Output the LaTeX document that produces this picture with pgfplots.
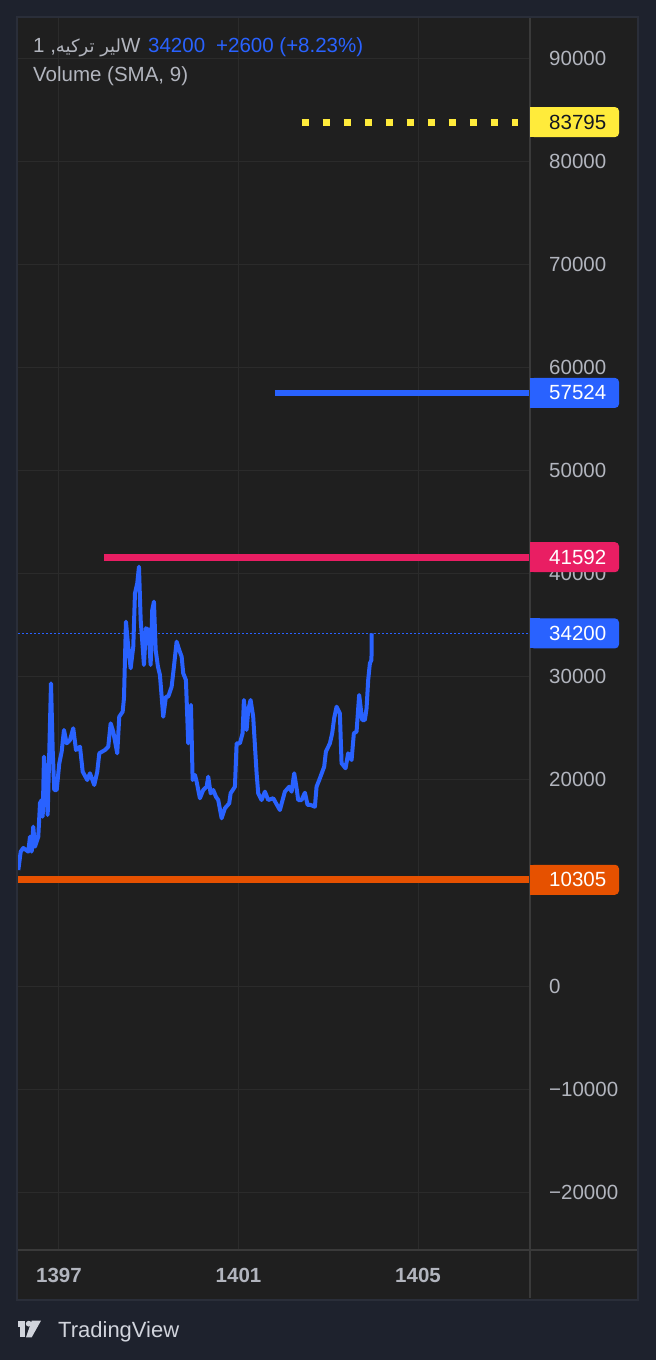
\documentclass[border=0pt]{standalone}
\usepackage{pgfplots}
\pgfplotsset{compat=1.18}
\usepackage{fontspec}
\setmainfont{Liberation Sans}
\newfontfamily\arabicfont[Script=Arabic]{DejaVu Sans}
\TeXXeTstate=1
\definecolor{bgout}{HTML}{1E222D}
\definecolor{panel}{HTML}{1F1F1F}
\definecolor{pborder}{HTML}{2A2E39}
\definecolor{sep}{HTML}{3A3A3A}
\definecolor{gridc}{HTML}{2B2B2B}
\definecolor{tickc}{HTML}{B2B5BE}
\definecolor{tvblue}{HTML}{2962FF}
\definecolor{tvred}{HTML}{E91E63}
\definecolor{tvorange}{HTML}{E65100}
\definecolor{tvyellow}{HTML}{FFEB3B}
\definecolor{logoc}{HTML}{D1D4DC}
\definecolor{darktxt}{HTML}{131722}
\newcommand\tvfont{\fontsize{20.5bp}{24bp}\selectfont}
\newcommand\pbox[4]{%
  \fill[#2,rounded corners=4bp] ([yshift=-15bp]#1) rectangle ([xshift=89bp,yshift=15bp]#1);
  \fill[#2] ([yshift=-15bp]#1) rectangle ([xshift=10bp,yshift=15bp]#1);
  \node[anchor=west, inner sep=0pt, text=#3, font=\tvfont] at ([xshift=19bp]#1) {#4};}
\begin{document}
\begin{tikzpicture}
\fill[bgout] (0,0) rectangle (656bp,1360bp);
\fill[panel] (17bp,60bp) rectangle (638bp,1343bp);
\draw[pborder,line width=2bp] (17bp,60bp) rectangle (638bp,1343bp);
\begin{axis}[at={(18bp,110bp)}, anchor=south west, scale only axis,
  width=512bp, height=1232bp,
  xmin=1396.0869, xmax=1407.4944, ymin=-25606, ymax=93889,
  axis line style={draw=none}, major tick length=0pt,
  scaled ticks=false,
  xtick={1397,1401,1405}, xticklabels={1397,1401,1405},
  ytick={-20000,-10000,0,10000,20000,30000,40000,50000,60000,70000,80000,90000},
  yticklabels={−20000,−10000,0,{},20000,30000,40000,50000,60000,70000,80000,90000},
  grid=major, grid style={gridc, line width=1bp},
  yticklabel pos=right,
  yticklabel style={anchor=west, inner sep=0pt, xshift=19bp, font=\tvfont, text=tickc},
  xticklabel style={anchor=base, inner sep=0pt, yshift=-33bp, font=\bfseries\tvfont, text=tickc},
]
\addplot[tvorange, line width=7bp] coordinates {(1396.0869,10305) (1407.4944,10305)};
\addplot[tvred, line width=7bp] coordinates {(1398.002,41592) (1407.4944,41592)};
\addplot[tvblue, line width=6bp] coordinates {(1401.811,57524) (1407.4944,57524)};
\addplot[tvyellow, line width=7bp, dash pattern=on 7bp off 14bp] coordinates {(1402.405,83795) (1407.238,83795)};
\addplot[tvblue, line width=1.6bp, dash pattern=on 2bp off 2bp] coordinates {(1396.0869,34200) (1407.4944,34200)};
\addplot[tvblue, line width=4bp, line join=round] coordinates {
(1396.094,11250) (1396.147,13030) (1396.205,13390) (1396.316,13030) (1396.354,14480) (1396.392,13030) (1396.427,15450) (1396.465,13510) (1396.539,14480) (1396.577,17750) (1396.615,18040) (1396.637,16420) (1396.666,22240) (1396.710,19690) (1396.748,16590) (1396.784,22730) (1396.822,29360) (1396.860,22890) (1396.895,19010) (1396.949,19010) (1397.007,21600) (1397.060,22730) (1397.111,24830) (1397.171,23540) (1397.245,23860) (1397.318,25000) (1397.379,22890) (1397.468,23210) (1397.528,20790) (1397.630,19980) (1397.690,20630) (1397.786,19500) (1397.853,20790) (1397.898,22570) (1398.024,22890) (1398.098,23210) (1398.151,25480) (1398.209,24670) (1398.298,22570) (1398.343,26120) (1398.419,26610) (1398.448,27910) (1398.492,35340) (1398.543,32910) (1398.597,30820) (1398.655,32910) (1398.693,38090) (1398.744,39060) (1398.782,40670) (1398.820,35500) (1398.864,32910) (1398.893,31140) (1398.938,34700) (1398.998,34530) (1399.042,31140) (1399.078,36470) (1399.116,37280) (1399.154,32590) (1399.205,30970) (1399.249,30170) (1399.323,26120) (1399.383,28060) (1399.434,28060) (1399.510,29030) (1399.561,30970) (1399.621,33400) (1399.679,32590) (1399.733,31940) (1399.768,30330) (1399.828,29680) (1399.880,23540) (1399.940,27260) (1399.978,19980) (1400.029,20470) (1400.067,19820) (1400.140,18210) (1400.214,19010) (1400.290,19330) (1400.325,20300) (1400.379,18690) (1400.437,19010) (1400.497,18360) (1400.548,18040) (1400.624,16270) (1400.697,17240) (1400.793,17720) (1400.824,18690) (1400.920,19330) (1400.958,23540) (1401.031,23540) (1401.091,24510) (1401.120,27740) (1401.180,24830) (1401.216,26770) (1401.269,27740) (1401.327,26120) (1401.403,20630) (1401.439,18690) (1401.514,18040) (1401.588,18850) (1401.662,18040) (1401.773,18210) (1401.922,17070) (1402.033,18850) (1402.129,19330) (1402.183,18850) (1402.241,20630) (1402.294,19180) (1402.330,18040) (1402.405,18040) (1402.479,18750) (1402.539,17560) (1402.606,17560) (1402.702,17390) (1402.739,19330) (1402.813,20150) (1402.909,21270) (1402.947,22730) (1403.036,23540) (1403.087,24510) (1403.131,25970) (1403.185,27090) (1403.258,26450) (1403.296,21600) (1403.385,21120) (1403.443,22570) (1403.519,21920) (1403.570,24510) (1403.630,24670) (1403.688,28230) (1403.755,25800) (1403.815,25800) (1403.853,26940) (1403.889,29680) (1403.927,31300) (1403.962,31620) (1403.968,34200)
};
\coordinate (bY) at (axis cs:1407.4944,83795);
\coordinate (bB) at (axis cs:1407.4944,57524);
\coordinate (bR) at (axis cs:1407.4944,41592);
\coordinate (bC) at (axis cs:1407.4944,34200);
\coordinate (bO) at (axis cs:1407.4944,10305);
\end{axis}
\draw[sep, line width=1.5bp] (530bp,62bp) -- (530bp,1342bp);
\draw[sep, line width=1.5bp] (18bp,110bp) -- (637bp,110bp);
\pbox{bY}{tvyellow}{darktxt}{83795}
\pbox{bB}{tvblue}{white}{57524}
\pbox{bR}{tvred}{white}{41592}
\pbox{bC}{tvblue}{white}{34200}
\pbox{bO}{tvorange}{white}{10305}
\node[anchor=base west, inner sep=0pt, text=tickc, font=\tvfont] at (33bp,1307bp) {1 ,{\arabicfont\fontsize{18bp}{22bp}\selectfont\beginR لیر ترکیه\endR}W};
\node[anchor=base west, inner sep=0pt, text=tvblue, font=\tvfont] at (148bp,1307bp) {34200};
\node[anchor=base west, inner sep=0pt, text=tvblue, font=\tvfont] at (216bp,1307bp) {+2600 (+8.23\%)};
\node[anchor=base west, inner sep=0pt, text=tickc, font=\tvfont] at (33bp,1278bp) {Volume (SMA, 9)};
% TradingView logo
\fill[logoc] (17.5bp,39.3bp) rectangle (25bp,33.3bp);
\fill[logoc] (19.5bp,33.5bp) rectangle (25bp,22.7bp);
\fill[logoc] (28.7bp,36.3bp) circle (2.9bp);
\fill[logoc] (31.7bp,39.3bp) -- (41bp,39.3bp) -- (31.7bp,22.7bp) -- (26bp,22.7bp) -- cycle;
\node[anchor=base west, inner sep=0pt, text=logoc, font=\fontsize{22bp}{26bp}\selectfont] at (58bp,22.5bp) {TradingView};
\end{tikzpicture}
\end{document}
